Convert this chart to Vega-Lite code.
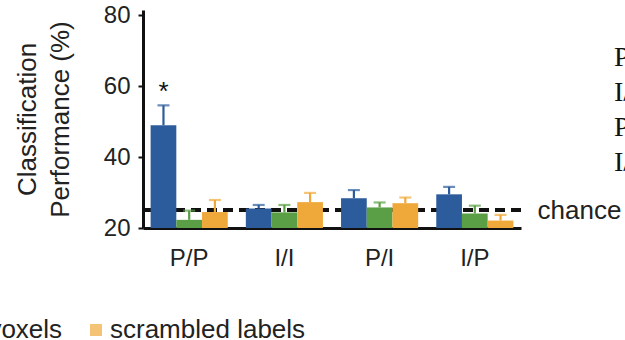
{
  "$schema": "https://vega.github.io/schema/vega-lite/v6.json",
  "autosize": {"type": "none"},
  "padding": {"left": 143, "top": 10, "right": 104, "bottom": 112},
  "width": 378,
  "height": 218,
  "background": "white",
  "config": {
    "font": "Liberation Sans",
    "view": {"stroke": null},
    "axis": {"grid": false, "domainColor": "#111", "domainWidth": 3, "labelColor": "#222", "titleColor": "#222", "tickColor": "#111"},
    "legend": {"labelLimit": 600}
  },
  "data": {"values": [
    {"task": "P/P", "cond": "all voxels", "value": 49.0, "hi": 54.6, "sig": "*"},
    {"task": "P/P", "cond": "random voxels", "value": 22.3, "hi": 24.9, "sig": ""},
    {"task": "P/P", "cond": "scrambled labels", "value": 24.5, "hi": 27.9, "sig": ""},
    {"task": "I/I", "cond": "all voxels", "value": 25.5, "hi": 26.5, "sig": ""},
    {"task": "I/I", "cond": "random voxels", "value": 24.4, "hi": 26.5, "sig": ""},
    {"task": "I/I", "cond": "scrambled labels", "value": 27.3, "hi": 29.9, "sig": ""},
    {"task": "P/I", "cond": "all voxels", "value": 28.4, "hi": 30.7, "sig": ""},
    {"task": "P/I", "cond": "random voxels", "value": 25.8, "hi": 27.2, "sig": ""},
    {"task": "P/I", "cond": "scrambled labels", "value": 27.0, "hi": 28.6, "sig": ""},
    {"task": "I/P", "cond": "all voxels", "value": 29.5, "hi": 31.6, "sig": ""},
    {"task": "I/P", "cond": "random voxels", "value": 24.1, "hi": 26.3, "sig": ""},
    {"task": "I/P", "cond": "scrambled labels", "value": 22.1, "hi": 23.7, "sig": ""}
  ]},
  "resolve": {"axis": {"y": "independent"}},
  "layer": [
    {
      "mark": {"type": "rule", "strokeDash": [10, 6], "strokeWidth": 3.5, "color": "#111", "x2Offset": 7},
      "encoding": {
        "y": {"datum": 25, "type": "quantitative", "scale": {"domain": [20, 81.5], "nice": false, "zero": false},
          "axis": {"orient": "right", "values": [25], "labelExpr": "'chance'", "title": null, "domain": false, "ticks": false, "labelPadding": 16, "labelFontSize": 26, "labelAlign": "left", "labelBaseline": "middle"}}
      }
    },
    {
      "mark": {"type": "bar"},
      "encoding": {
        "x": {"field": "task", "type": "nominal", "sort": ["P/P", "I/I", "P/I", "I/P"],
          "scale": {"paddingInner": 0.19, "paddingOuter": 0.08},
          "axis": {"title": null, "labelAngle": 0, "ticks": false, "labelFontSize": 24, "labelPadding": 18}},
        "xOffset": {"field": "cond", "type": "nominal", "sort": ["all voxels", "random voxels", "scrambled labels"], "scale": {"paddingInner": 0, "paddingOuter": 0}},
        "y": {"field": "value", "type": "quantitative",
          "axis": {"orient": "left", "values": [20, 40, 60, 80], "title": ["Classification", "Performance (%)"], "titleFontSize": 26, "titleFontWeight": "normal", "titleLineHeight": 33, "titlePadding": 30, "labelFontSize": 24, "tickSize": 5, "tickWidth": 2, "labelPadding": 8}},
        "y2": {"datum": 20},
        "color": {"field": "cond", "type": "nominal", "sort": ["all voxels", "random voxels", "scrambled labels"],
          "scale": {"domain": ["all voxels", "random voxels", "scrambled labels"], "range": ["#2d5c9c", "#5a9f45", "#efa93b"]},
          "legend": {"orient": "none", "direction": "horizontal", "legendX": -431, "legendY": 307, "title": null, "symbolType": "square", "symbolSize": 144, "symbolStrokeWidth": 0, "labelFontSize": 26, "labelColor": "#222", "labelOffset": 1, "columnPadding": 20}}
      }
    },
    {
      "mark": {"type": "rule", "strokeWidth": 2.2},
      "encoding": {
        "x": {"field": "task", "type": "nominal", "sort": ["P/P", "I/I", "P/I", "I/P"]},
        "xOffset": {"field": "cond", "type": "nominal", "sort": ["all voxels", "random voxels", "scrambled labels"]},
        "y": {"field": "value", "type": "quantitative", "axis": null},
        "y2": {"field": "hi"},
        "color": {"field": "cond", "type": "nominal"},
        "opacity": {"field": "task", "type": "nominal",
          "scale": {"domain": ["P/P", "I/I", "P/I", "I/P"], "range": [1, 1, 1, 1]},
          "legend": {"orient": "none", "direction": "vertical", "legendX": 443, "legendY": 34, "title": null, "symbolSize": 1, "symbolStrokeWidth": 0, "symbolFillColor": "transparent", "labelOffset": 0, "labelFont": "Liberation Serif", "labelFontSize": 28, "labelColor": "#111", "rowPadding": 7}}
      }
    },
    {
      "mark": {"type": "tick", "size": 12, "thickness": 2.2, "orient": "horizontal"},
      "encoding": {
        "x": {"field": "task", "type": "nominal", "sort": ["P/P", "I/I", "P/I", "I/P"]},
        "xOffset": {"field": "cond", "type": "nominal", "sort": ["all voxels", "random voxels", "scrambled labels"]},
        "y": {"field": "hi", "type": "quantitative", "axis": null},
        "color": {"field": "cond", "type": "nominal"}
      }
    },
    {
      "mark": {"type": "text", "fontSize": 26, "baseline": "alphabetic", "dy": -5, "color": "#111"},
      "encoding": {
        "x": {"field": "task", "type": "nominal", "sort": ["P/P", "I/I", "P/I", "I/P"]},
        "xOffset": {"field": "cond", "type": "nominal", "sort": ["all voxels", "random voxels", "scrambled labels"]},
        "y": {"field": "hi", "type": "quantitative", "axis": null},
        "text": {"field": "sig"}
      }
    }
  ]
}
